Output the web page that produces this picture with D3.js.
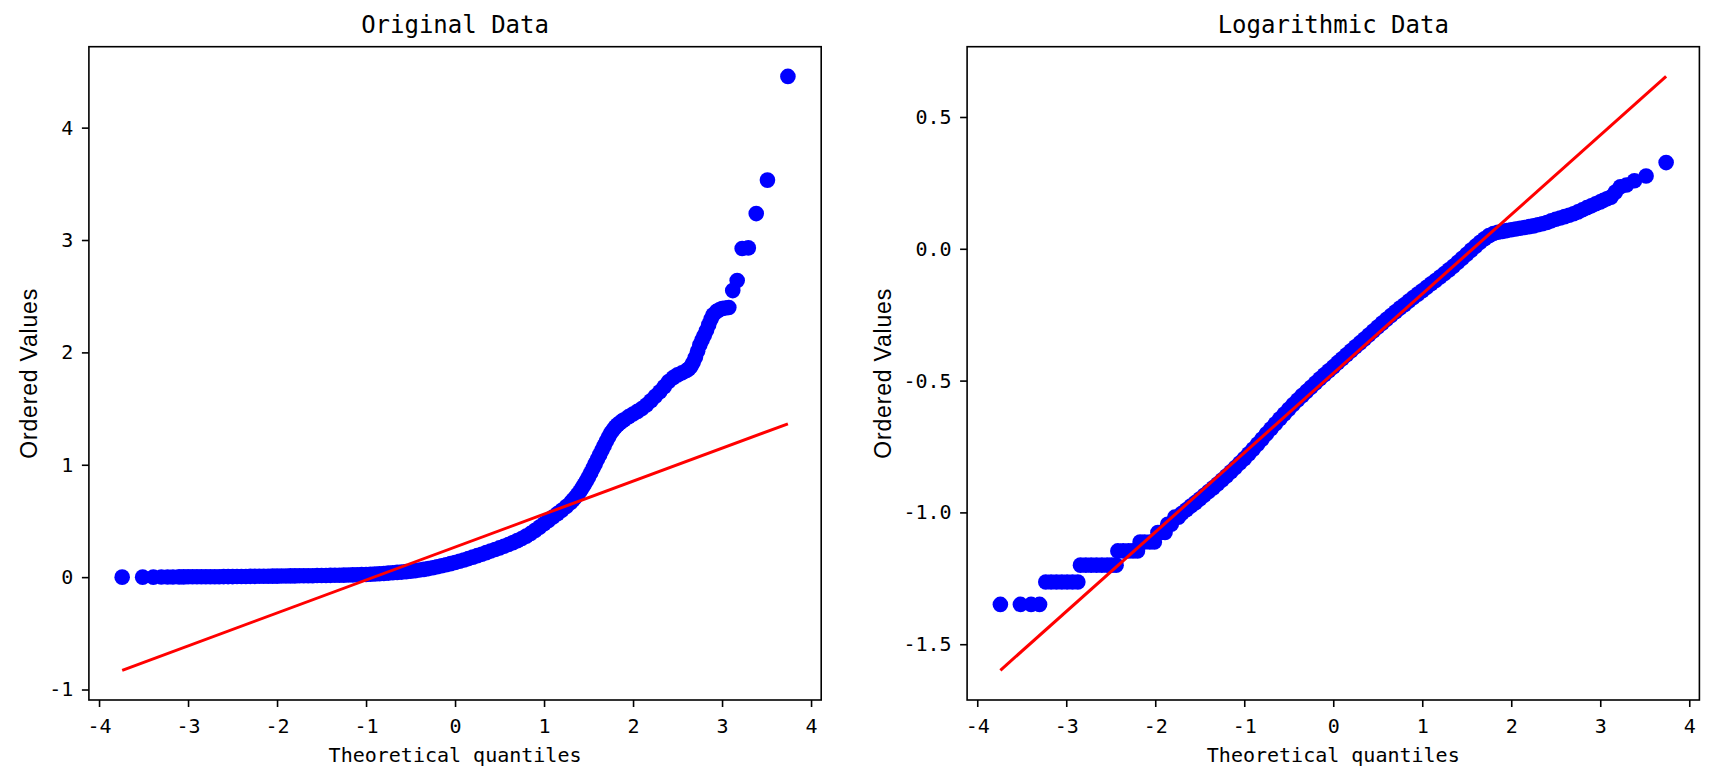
<!DOCTYPE html>
<html>
<head>
<meta charset="utf-8">
<script src="https://cdn.jsdelivr.net/npm/d3@7"></script>
<style>
  html, body { margin: 0; padding: 0; background: #fff; }
</style>
</head>
<body>
<svg id="chart" width="1713" height="777"></svg>
<script>
// Q-Q samples: [theoretical quantile, ordered value]
const originalPoints = [
  [-3.74,0.0],[-3.51,0.0],[-3.39,0.0],[-3.30,0.001],[-3.23,0.001],[-3.17,0.001],
  [-3.10,0.002],[-3.05,0.002],[-3.00,0.003],[-2.95,0.003],[-2.90,0.003],[-2.85,0.003],[-2.80,0.004],[-2.75,0.004],[-2.70,0.004],[-2.65,0.004],
  [-2.60,0.005],[-2.55,0.005],[-2.50,0.005],[-2.45,0.006],[-2.40,0.006],[-2.35,0.006],[-2.30,0.007],[-2.25,0.007],[-2.20,0.008],[-2.15,0.008],
  [-2.10,0.008],[-2.05,0.009],[-2.00,0.009],[-1.95,0.010],[-1.90,0.010],[-1.85,0.011],[-1.80,0.011],[-1.75,0.012],[-1.70,0.012],[-1.65,0.013],
  [-1.60,0.013],[-1.55,0.014],[-1.50,0.014],[-1.45,0.015],[-1.40,0.016],[-1.35,0.017],[-1.30,0.017],[-1.25,0.018],[-1.20,0.019],[-1.15,0.020],
  [-1.10,0.021],[-1.05,0.023],[-1.00,0.024],[-0.95,0.026],[-0.90,0.028],[-0.85,0.030],[-0.80,0.033],[-0.75,0.036],[-0.70,0.039],[-0.65,0.042],
  [-0.60,0.045],[-0.55,0.049],[-0.50,0.053],[-0.45,0.058],[-0.40,0.063],[-0.35,0.069],[-0.30,0.076],[-0.25,0.084],[-0.20,0.092],[-0.15,0.101],
  [-0.10,0.110],[-0.05,0.120],[0.00,0.130],[0.05,0.141],[0.10,0.153],[0.15,0.165],[0.20,0.178],[0.25,0.191],[0.30,0.204],[0.35,0.218],
  [0.40,0.232],[0.45,0.246],[0.50,0.260],[0.55,0.275],[0.60,0.290],[0.65,0.307],[0.70,0.325],[0.75,0.344],[0.80,0.365],[0.85,0.389],
  [0.90,0.416],[0.95,0.445],[1.00,0.475],[1.05,0.505],[1.10,0.535],[1.15,0.565],[1.20,0.595],[1.25,0.628],[1.30,0.665],[1.325,0.686],
  [1.35,0.708],[1.375,0.733],[1.40,0.760],[1.425,0.790],[1.45,0.822],[1.475,0.855],[1.50,0.890],[1.525,0.928],[1.55,0.968],[1.575,1.008],
  [1.60,1.050],[1.625,1.090],[1.65,1.130],[1.675,1.170],[1.70,1.210],[1.725,1.248],[1.75,1.282],[1.775,1.310],[1.80,1.335],[1.825,1.355],
  [1.85,1.372],[1.875,1.388],[1.90,1.400],[1.95,1.428],[2.00,1.452],[2.05,1.475],[2.10,1.500],[2.15,1.532],[2.20,1.570],[2.25,1.610],
  [2.30,1.650],[2.35,1.695],[2.40,1.740],[2.45,1.775],[2.50,1.800],[2.55,1.818],[2.60,1.838],[2.625,1.852],[2.65,1.875],[2.675,1.910],
  [2.70,1.955],[2.725,2.010],[2.75,2.065],[2.775,2.110],[2.80,2.150],[2.825,2.195],[2.85,2.245],[2.875,2.295],[2.90,2.335],[2.94,2.365],
  [2.97,2.380],[3.00,2.390],[3.037,2.395],[3.076,2.400],[3.12,2.550],[3.17,2.640],[3.226,2.925],[3.295,2.930],[3.384,3.235],[3.51,3.533],[3.74,4.456]
];

const logPoints = [
  [-3.74,-1.349],[-3.515,-1.349],[-3.395,-1.349],[-3.30,-1.349],
  [-3.23,-1.264],[-3.17,-1.264],[-3.11,-1.264],[-3.05,-1.264],[-2.99,-1.264],[-2.93,-1.264],[-2.87,-1.264],
  [-2.84,-1.200],[-2.78,-1.200],[-2.72,-1.200],[-2.66,-1.200],[-2.60,-1.200],[-2.54,-1.200],[-2.49,-1.200],[-2.44,-1.200],
  [-2.42,-1.146],[-2.36,-1.146],[-2.30,-1.146],[-2.25,-1.146],[-2.20,-1.146],
  [-2.17,-1.112],[-2.12,-1.112],[-2.06,-1.112],[-2.01,-1.112],
  [-1.97,-1.076],[-1.93,-1.076],[-1.89,-1.076],
  [-1.86,-1.045],[-1.82,-1.045],[-1.78,-1.018],[-1.74,-1.018],
  [-1.70,-1.003],[-1.65,-0.990],[-1.60,-0.976],[-1.55,-0.963],[-1.50,-0.949],[-1.45,-0.935],[-1.40,-0.921],[-1.35,-0.907],[-1.30,-0.892],[-1.25,-0.877],
  [-1.20,-0.862],[-1.15,-0.846],[-1.10,-0.830],[-1.05,-0.813],[-1.00,-0.796],[-0.95,-0.778],[-0.90,-0.760],[-0.85,-0.741],[-0.80,-0.722],[-0.75,-0.702],
  [-0.70,-0.683],[-0.65,-0.664],[-0.60,-0.645],[-0.55,-0.627],[-0.50,-0.609],[-0.45,-0.591],[-0.40,-0.574],[-0.35,-0.557],[-0.30,-0.541],[-0.25,-0.525],
  [-0.20,-0.509],[-0.15,-0.493],[-0.10,-0.478],[-0.05,-0.463],[0.00,-0.448],[0.05,-0.432],[0.10,-0.417],[0.15,-0.402],[0.20,-0.387],[0.25,-0.372],
  [0.30,-0.357],[0.35,-0.342],[0.40,-0.327],[0.45,-0.312],[0.50,-0.297],[0.55,-0.282],[0.60,-0.267],[0.65,-0.253],[0.70,-0.239],[0.75,-0.225],
  [0.80,-0.212],[0.85,-0.198],[0.90,-0.185],[0.95,-0.172],[1.00,-0.159],[1.05,-0.146],[1.10,-0.133],[1.15,-0.120],[1.20,-0.107],[1.25,-0.094],
  [1.30,-0.080],[1.35,-0.066],[1.40,-0.051],[1.45,-0.036],[1.50,-0.021],[1.55,-0.005],[1.60,0.010],[1.65,0.025],[1.70,0.038],[1.75,0.050],
  [1.80,0.058],[1.85,0.063],[1.90,0.066],[1.95,0.069],[2.00,0.072],[2.05,0.075],[2.10,0.078],[2.15,0.081],[2.20,0.084],[2.25,0.087],
  [2.30,0.091],[2.35,0.095],[2.40,0.100],[2.45,0.106],[2.50,0.112],[2.55,0.117],[2.60,0.122],[2.65,0.127],[2.70,0.133],[2.75,0.140],
  [2.80,0.148],[2.85,0.156],[2.90,0.163],[2.95,0.171],[3.00,0.178],[3.037,0.184],[3.076,0.190],[3.12,0.196],[3.17,0.215],[3.226,0.235],
  [3.295,0.242],[3.384,0.258],[3.515,0.276],[3.74,0.327]
];

// fitted reference lines: [slope, intercept]
const originalFit = [0.2932, 0.2675];
const logFit = [0.3012, -0.4725];

// tick labels
const xTicks = [-4, -3, -2, -1, 0, 1, 2, 3, 4];
const originalYTicks = [-1, 0, 1, 2, 3, 4];
const logYTicks = [-1.5, -1.0, -0.5, 0.0, 0.5];

const svg = d3.select("#chart");
svg.append("rect").attr("width", 1713).attr("height", 777).attr("fill", "#fff");

const plotTop = 46.7, plotBottom = 700;
const monoFont = "'DejaVu Sans Mono', 'Liberation Mono', monospace";

const panels = [
  { title: "Original Data", points: originalPoints, fit: originalFit, yTicks: originalYTicks,
    fmt: d => String(d), left: 88.9, right: 821.2, labelX: 37 },
  { title: "Logarithmic Data", points: logPoints, fit: logFit, yTicks: logYTicks,
    fmt: d => d.toFixed(1), left: 967.1, right: 1699.4, labelX: 891 }
];

// matplotlib style 5% margins
function padded(ext) {
  const m = (ext[1] - ext[0]) * 0.05;
  return [ext[0] - m, ext[1] + m];
}

panels.forEach(p => {
  const xExt = d3.extent(p.points, d => d[0]);
  const lineEnds = xExt.map(x => [x, p.fit[0] * x + p.fit[1]]);
  const yExt = d3.extent(p.points.concat(lineEnds), d => d[1]);

  const x = d3.scaleLinear().domain(padded(xExt)).range([p.left, p.right]);
  const y = d3.scaleLinear().domain(padded(yExt)).range([plotBottom, plotTop]);

  const g = svg.append("g");

  // points
  g.append("g")
    .selectAll("circle")
    .data(p.points)
    .join("circle")
    .attr("cx", d => x(d[0]))
    .attr("cy", d => y(d[1]))
    .attr("r", 7.8)
    .attr("fill", "#0000ff");

  // fit line
  g.append("path")
    .datum(lineEnds)
    .attr("d", d3.line().x(d => x(d[0])).y(d => y(d[1])))
    .attr("fill", "none")
    .attr("stroke", "#ff0000")
    .attr("stroke-width", 3);

  // axes
  const xAxis = g.append("g")
    .attr("transform", `translate(0,${plotBottom})`)
    .call(d3.axisBottom(x).tickValues(xTicks).tickSize(7).tickPadding(12).tickFormat(d => String(d)));
  const yAxis = g.append("g")
    .attr("transform", `translate(${p.left},0)`)
    .call(d3.axisLeft(y).tickValues(p.yTicks).tickSize(7).tickPadding(8.5).tickFormat(p.fmt));

  [xAxis, yAxis].forEach(a => {
    a.select(".domain").remove();
    a.selectAll(".tick line").attr("stroke", "#000").attr("stroke-width", 1.6);
    a.selectAll(".tick text")
      .attr("fill", "#000")
      .style("font-family", monoFont)
      .style("font-size", "20px");
  });

  // frame
  g.append("rect")
    .attr("x", p.left).attr("y", plotTop)
    .attr("width", p.right - p.left).attr("height", plotBottom - plotTop)
    .attr("fill", "none").attr("stroke", "#000").attr("stroke-width", 1.6);

  const cx = (p.left + p.right) / 2;

  g.append("text")
    .attr("x", cx).attr("y", 32.5)
    .attr("text-anchor", "middle")
    .style("font-family", monoFont).style("font-size", "24px")
    .text(p.title);

  g.append("text")
    .attr("x", cx).attr("y", 761.5)
    .attr("text-anchor", "middle")
    .style("font-family", monoFont).style("font-size", "20px")
    .text("Theoretical quantiles");

  g.append("text")
    .attr("transform", `translate(${p.labelX},${(plotTop + plotBottom) / 2}) rotate(-90)`)
    .attr("text-anchor", "middle")
    .style("font-family", "'Liberation Sans', Arial, sans-serif")
    .style("font-size", "23px")
    .style("letter-spacing", "0.8px")
    .text("Ordered Values");
});
</script>
</body>
</html>
